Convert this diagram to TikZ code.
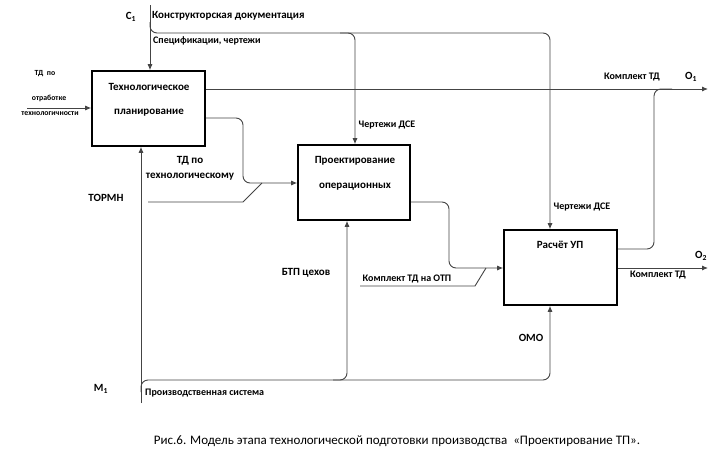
\documentclass[tikz,border=0pt]{standalone}
\usepackage{fontspec}
\setmainfont{Carlito}
\usetikzlibrary{arrows.meta}
\definecolor{ln}{HTML}{444444}
\begin{document}
\begin{tikzpicture}[x=1pt,y=-1pt,
  box/.style={draw=black,line width=1.6pt,minimum width=113pt,minimum height=75pt,inner sep=0pt},
  ln/.style={draw=ln,line width=0.9pt},
  arr/.style={ln,-{Latex[length=6pt,width=5pt]}},
  rc/.style={rounded corners=7pt},
  btxt/.style={font=\fontsize{11}{12}\selectfont\bfseries,inner sep=0pt},
  big/.style={font=\fontsize{11}{12}\selectfont\bfseries,inner sep=0pt},
  lbl/.style={font=\fontsize{10}{11}\selectfont\bfseries,inner sep=0pt},
  slbl/.style={font=\fontsize{7.8}{9}\selectfont\bfseries,inner sep=0pt},
  captxt/.style={font=\fontsize{13}{15}\selectfont,inner sep=0pt}]
\useasboundingbox[fill=white] (0,0) rectangle (723,450);
% boxes
\node[box] (b1) at (148.5,108.5) {};
\node[box,minimum width=112pt] (b2) at (354,182.5) {};
\node[box] (b3) at (560.5,267.5) {};
\node[btxt] (t1a) at (149,87) {Технологическое};
\node[btxt] (t1b) at (149,113) {планирование};
\node[btxt] (t2a) at (355,161) {Проектирование};
\node[btxt] (t2b) at (355,187) {операционных};
\node[btxt] (t3a) at (560,245) {Расчёт УП};
% coordinates
\coordinate (ctop) at (150,5);
\coordinate (c1b) at (150,22);
\coordinate (cbr) at (340,33);
\coordinate (i1) at (27,108);
\coordinate (o1) at (708,89);
\coordinate (o2) at (708,268);
\coordinate (tor) at (148,202);
\coordinate (otp) at (360,286);
\coordinate (mbot) at (141,403);
\coordinate (mbr) at (141,392);
\coordinate (mbr2) at (333,380);
% control
\draw[arr] (ctop) -- (ctop|-b1.north);
\draw[arr,rc] (c1b) -- (150,33) -- (550,33) -- (550,230|-b3.north);
\draw[arr,rc] (cbr) -- (355,33) -- (355,145|-b2.north);
% outputs
\draw[arr] (b1.east|-o1) -- (o1);
\draw[ln,rc] (b3.east|-0,249) -- (654,249) -- (654,89) -- (672,89);
\draw[arr] (b3.east|-o2) -- (o2);
% inputs
\draw[arr] (i1) -- (i1-|b1.west);
\draw[arr,rc] (b1.east|-0,118) -- (243,118) -- (243,183) -- (0,183-|b2.west);
\draw[ln] (tor) -- (243,202) -- (262,183);
\draw[arr,rc] (b2.east|-0,202) -- (449,202) -- (449,268) -- (0,268-|b3.west);
\draw[ln] (otp) -- (475,286) -- (486,268);
% mechanisms
\draw[arr] (mbot) -- (mbot|-b1.south);
\draw[arr,rc] (mbr) -- (141,380) -- (550,380) -- (550,305|-b3.south);
\draw[arr,rc] (mbr2) -- (347,380) -- (347,220|-b2.south);
% labels
\node[big] (lc1) at (131,17) {C\textsubscript{1}};
\node[big,anchor=west] (lkd) at (152,16) {Конструкторская документация};
\node[lbl,anchor=west] (lsp) at (153,41) {Спецификации, чертежи};
\node[slbl] (li1) at (45,74) {ТД\ \ по};
\node[slbl] (li2) at (49,98) {отработке};
\node[slbl] (li3) at (50,114) {технологичности};
\node[lbl] (lo1) at (632,77) {Комплект ТД};
\node[big] (lO1) at (691,77) {O\textsubscript{1}};
\node[lbl] (lch1) at (387,125) {Чертежи ДСЕ};
\node[big] (ltd1) at (190,161) {ТД по};
\node[big] (ltd2) at (190,177) {технологическому};
\node[big] (ltor) at (106,198) {ТОРМН};
\node[big] (lbtp) at (306,273) {БТП цехов};
\node[lbl] (lch2) at (582,207) {Чертежи ДСЕ};
\node[lbl] (lotp) at (407,279) {Комплект ТД\ на ОТП};
\node[big] (lO2) at (701,256) {O\textsubscript{2}};
\node[lbl] (lo2) at (658,275) {Комплект ТД};
\node[big] (lomo) at (531,338) {ОМО};
\node[big] (lm1) at (101,389) {M\textsubscript{1}};
\node[lbl,anchor=west] (lps) at (145,393) {Производственная система};
\node[captxt] (lcap) at (397,441) {Рис.6. Модель этапа технологической подготовки производства \ «Проектирование ТП».};
\end{tikzpicture}
\end{document}
